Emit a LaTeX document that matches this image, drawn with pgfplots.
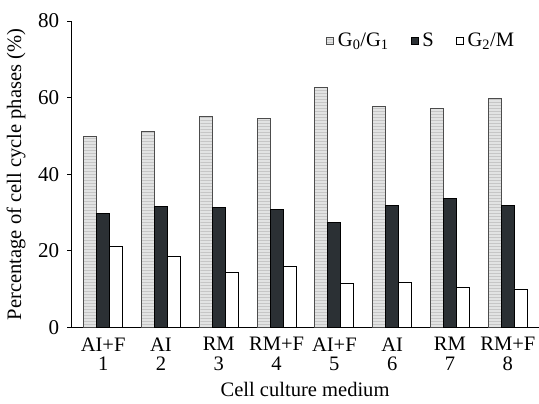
\documentclass[border=0pt]{standalone}
\usepackage{pgfplots}
\pgfplotsset{compat=1.18}
\usetikzlibrary{patterns}
\usepackage{fontspec}
\setmainfont{Liberation Serif}
\definecolor{gfill}{HTML}{E2E3E3}
\definecolor{sfill}{HTML}{2B3034}
\begin{document}
\fontsize{20}{22}\selectfont
\begin{tikzpicture}[trim axis right]
\begin{axis}[
  scale only axis,
  width=467pt, height=306pt,
  ybar=0pt,
  bar width=0.225,
  xmin=0.445, xmax=8.54,
  ymin=0, ymax=80,
  axis x line=bottom, axis y line=left,
  axis line style={-, line width=1pt},
  ytick={0,20,40,60,80},
  xtick={1,2,3,4,5,6,7,8},
  xticklabels={{AI+F\\1},{AI\\2},{RM\\3},{RM+F\\4},{AI+F\\5},{AI\\6},{RM\\7},{RM+F\\8}},
  xticklabel style={align=center, font=\fontsize{20.5}{19}\selectfont, yshift=1pt},
  yticklabel style={font=\fontsize{21}{22}\selectfont, xshift=-1pt},
  /pgf/number format/assume math mode=true,
  x tick style={draw=none},
  y tick style={line width=1pt, black},
  tick align=outside,
  major tick length=4pt,
  extra x ticks={1.5,2.5,3.5,4.5,5.5,6.5,7.5},
  extra x tick labels={},
  extra x tick style={tick style={draw=black, line width=1pt}, tick align=inside, major tick length=4pt},
  ylabel={Percentage of cell cycle phases (\%)},
  xlabel={Cell culture medium},
  ylabel style={font=\fontsize{20.5}{22}\selectfont, yshift=-1pt},
  xlabel style={font=\fontsize{20.5}{22}\selectfont, yshift=6pt},
  legend style={at={(rel axis cs:0.958,0.975)}, anchor=north east, draw=none, fill=none,
    legend columns=3, font=\fontsize{20.5}{22}\selectfont,
    /tikz/every odd column/.append style={column sep=2pt},
    /tikz/every even column/.append style={column sep=20pt}},
  legend image code/.code={\draw[#1, line width=0.7pt] (0pt,-3.5pt) rectangle (7pt,3.5pt);},
]
\addplot[fill=gfill, draw=black!70, line width=0.8pt, postaction={pattern=horizontal lines, pattern color=gray!45}] coordinates {(1,50.0) (2,51.2) (3,55.1) (4,54.7) (5,62.7) (6,57.6) (7,57.1) (8,59.7)};
\addplot[fill=sfill, draw=black, line width=0.8pt] coordinates {(1,29.7) (2,31.6) (3,31.3) (4,30.8) (5,27.5) (6,31.9) (7,33.7) (8,31.9)};
\addplot[fill=white, draw=black, line width=0.8pt] coordinates {(1,21.3) (2,18.6) (3,14.5) (4,16.0) (5,11.5) (6,11.8) (7,10.5) (8,10.1)};
\legend{G\textsubscript{0}/G\textsubscript{1}, S, G\textsubscript{2}/M}
\coordinate (topref) at (rel axis cs:0,1);
\end{axis}
\path (topref) ++(0,21pt);
\end{tikzpicture}
\end{document}
